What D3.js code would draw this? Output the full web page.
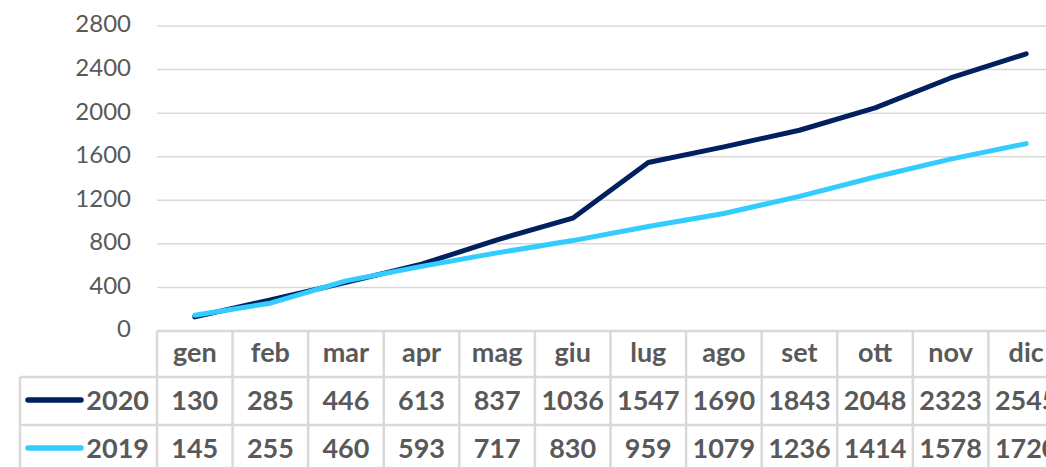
<!DOCTYPE html>
<html>
<head>
<meta charset="utf-8">
<script src="https://cdn.jsdelivr.net/npm/d3@7"></script>
<style>
    body { margin: 0; background: #fff; }
    svg { display: block; font-family: Lato, "Open Sans", sans-serif; }
</style>
</head>
<body>
<svg id="chart" width="1046" height="467"></svg>
<script>
// chart data
const months = ['gen', 'feb', 'mar', 'apr', 'mag', 'giu', 'lug', 'ago', 'set', 'ott', 'nov', 'dic'];
const values2020 = [130, 285, 446, 613, 837, 1036, 1547, 1690, 1843, 2048, 2323, 2545];
const values2019 = [145, 255, 460, 593, 717, 830, 959, 1079, 1236, 1414, 1578, 1720];
const yTicks = [0, 400, 800, 1200, 1600, 2000, 2400, 2800];

const series = [
    {name: '2020', values: values2020, color: '#002060'},
    {name: '2019', values: values2019, color: '#33CCFF'}
];

const svg = d3.select('#chart');
const textColor = '#595959';
const gridColor = '#D9D9D9';

// plot area (last column runs past the right edge, as in the original)
let plotLeft = 157, plotRight = 1064, plotTop = 26, plotBottom = 331;
let legendLeft = 20;
let rowHeight = [46, 48, 48];

let x = d3.scaleBand()
    .domain(months)
    .range([plotLeft, plotRight]);

let y = d3.scaleLinear()
    .domain([0, 2800])
    .range([plotBottom, plotTop]);

// gridlines
svg.append('g')
    .selectAll('line')
    .data(yTicks.filter(d => d > 0))
    .join('line')
    .attr('x1', plotLeft)
    .attr('x2', plotRight)
    .attr('y1', d => y(d))
    .attr('y2', d => y(d))
    .attr('stroke', gridColor)
    .attr('stroke-width', 1.5);

// y axis labels
svg.append('g')
    .selectAll('text')
    .data(yTicks)
    .join('text')
    .attr('x', 131)
    .attr('y', d => y(d) - 2)
    .attr('dy', '0.35em')
    .attr('text-anchor', 'end')
    .attr('fill', textColor)
    .attr('font-size', 24)
    .text(d => d);

// data table
let rowTops = [plotBottom, plotBottom + rowHeight[0], plotBottom + rowHeight[0] + rowHeight[1]];
let tableBottom = rowTops[2] + rowHeight[2];
let table = svg.append('g')
    .attr('stroke', gridColor)
    .attr('stroke-width', 2.5);

// horizontal borders
table.append('line')
    .attr('x1', plotLeft).attr('x2', plotRight)
    .attr('y1', rowTops[0]).attr('y2', rowTops[0]);
[rowTops[1], rowTops[2], tableBottom].forEach(yy => {
    table.append('line')
        .attr('x1', legendLeft).attr('x2', plotRight)
        .attr('y1', yy).attr('y2', yy);
});
// vertical borders
table.append('line')
    .attr('x1', legendLeft).attr('x2', legendLeft)
    .attr('y1', rowTops[1]).attr('y2', tableBottom);
table.selectAll('.col')
    .data(months)
    .join('line')
    .attr('x1', d => x(d)).attr('x2', d => x(d))
    .attr('y1', rowTops[0]).attr('y2', tableBottom);

// header row
svg.append('g')
    .selectAll('text')
    .data(months)
    .join('text')
    .attr('x', d => x(d) + x.bandwidth() / 2)
    .attr('y', rowTops[0] + 31)
    .attr('text-anchor', 'middle')
    .attr('fill', textColor)
    .attr('font-size', 27)
    .attr('font-weight', 'bold')
    .text(d => d);

// value rows and legend keys
series.forEach((s, i) => {
    let top = rowTops[i + 1];
    let g = svg.append('g');
    g.selectAll('text')
        .data(s.values)
        .join('text')
        .attr('x', (d, j) => x(months[j]) + x.bandwidth() / 2)
        .attr('y', top + 33)
        .attr('text-anchor', 'middle')
        .attr('fill', textColor)
        .attr('font-size', 27)
        .attr('font-weight', 'bold')
        .text(d => d);

    g.append('line')
        .attr('x1', 28).attr('x2', 81)
        .attr('y1', top + 23).attr('y2', top + 23)
        .attr('stroke', s.color)
        .attr('stroke-width', 5.5)
        .attr('stroke-linecap', 'round');

    g.append('text')
        .attr('x', 149)
        .attr('y', top + 33)
        .attr('text-anchor', 'end')
        .attr('fill', textColor)
        .attr('font-size', 27)
        .attr('font-weight', 'bold')
        .text(s.name);
});

// lines (2019 drawn on top)
let line = d3.line()
    .x((d, j) => x(months[j]) + x.bandwidth() / 2)
    .y(d => y(d));

svg.append('g')
    .selectAll('path')
    .data(series)
    .join('path')
    .attr('fill', 'none')
    .attr('stroke', d => d.color)
    .attr('stroke-width', 5)
    .attr('stroke-linejoin', 'round')
    .attr('stroke-linecap', 'round')
    .attr('d', d => line(d.values));
</script>
</body>
</html>
